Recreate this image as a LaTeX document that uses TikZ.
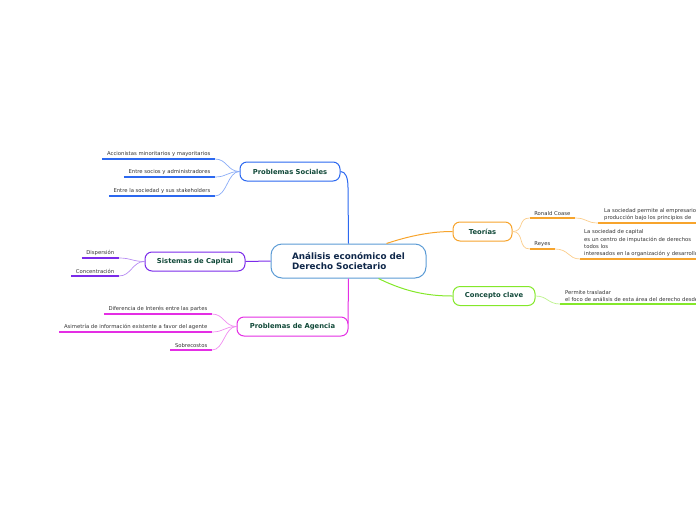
\documentclass[tikz,border=0pt]{standalone}
\usepackage{fontspec}
\setmainfont{DejaVu Sans}
\usepackage{tikz}
\usetikzlibrary{arrows.meta}
\usepackage{xcolor}
\definecolor{mainblue}{HTML}{5B9BD5}
\definecolor{maintext}{HTML}{10284A}
\definecolor{topictext}{HTML}{124A3A}
\definecolor{leaftext}{HTML}{333333}
\definecolor{socblue}{HTML}{2B68F0}
\definecolor{capviolet}{HTML}{7B2BEA}
\definecolor{agmagenta}{HTML}{E42EE4}
\definecolor{teorange}{HTML}{F7A42C}
\definecolor{conlime}{HTML}{84E82A}
\tikzset{
  topic/.style={draw=#1,rounded corners=7pt,line width=1pt,fill=white,text=topictext,font=\fontsize{6.8}{8}\selectfont\bfseries,minimum height=19pt,inner xsep=0pt},
  leaf/.style={text=leaftext,font=\fontsize{5.3}{7.3}\selectfont,inner xsep=4.5pt,inner ysep=2pt},
  note/.style={leaf,align=left,inner xsep=6pt},
  uline/.style={draw=#1,line width=1.6pt},
  twig/.style={draw=#1!55,line width=0.7pt},
}

\begin{document}
\begin{tikzpicture}[x=1pt,y=-1pt]
\useasboundingbox (0,0) rectangle (696,520);
\clip (0,0) rectangle (696,520);
% main topics
\node[topic=mainblue,minimum width=155pt,minimum height=34pt,rounded corners=11pt,align=left,font=\fontsize{8.8}{10.5}\selectfont\bfseries,text=maintext] (main) at (348.5,261) {Análisis económico del\\Derecho Societario};
\node[topic=socblue,minimum width=100pt] (ps) at (290,171.5) {Problemas Sociales};
\node[topic=capviolet,minimum width=100pt] (sc) at (195,261.5) {Sistemas de Capital};
\node[topic=agmagenta,minimum width=111pt] (pa) at (292.5,326.5) {Problemas de Agencia};
\node[topic=teorange,minimum width=59pt] (te) at (482.5,231.5) {Teorías};
\node[topic=conlime,minimum width=82pt] (cc) at (494,296) {Concepto clave};
\draw[socblue,line width=1pt] (main.north) -- ++(-0.5,-56) .. controls +(0,-10) and +(5,0) .. (ps.east);
\draw[capviolet,line width=1pt] (main.west) -- (sc.east);
\draw[agmagenta,line width=1pt] (main.south) -- ([xshift=-0.5pt,yshift=3pt]pa.east);
\draw[teorange,line width=1pt] ([xshift=38pt]main.north) .. controls +(30,-10) and +(-15,0) .. (te.west);
\draw[conlime,line width=1pt] ([xshift=30pt]main.south) .. controls +(30,15) and +(-20,0) .. (cc.west);
% left branches
\foreach \n/\y/\t in {s1/159/Accionistas minoritarios y mayoritarios,s2/177/Entre socios y administradores,s3/196/Entre la sociedad y sus stakeholders}{
  \node[leaf,anchor=south east] (\n) at (215,\y) {\t};
  \draw[uline=socblue] (\n.south west) -- (\n.south east);
  \draw[twig=socblue] (ps.west) .. controls +(-12,0) and +(12,0) .. (\n.south east);
}
\foreach \n/\y/\t in {d1/258/Dispersión,d2/276/Concentración}{
  \node[leaf,anchor=south east] (\n) at (119,\y) {\t};
  \draw[uline=capviolet] (\n.south west) -- (\n.south east);
  \draw[twig=capviolet] (sc.west) .. controls +(-12,0) and +(12,0) .. (\n.south east);
}
\foreach \n/\y/\t in {a1/314/Diferencia de Interés entre las partes,a2/332/Asimetría de información existente a favor del agente,a3/350/Sobrecostos}{
  \node[leaf,anchor=south east] (\n) at (212,\y) {\t};
  \draw[uline=agmagenta] (\n.south west) -- (\n.south east);
  \draw[twig=agmagenta] (pa.west) .. controls +(-12,0) and +(12,0) .. (\n.south east);
}
% right branches
\foreach \n/\x/\y/\t in {rc/575/218/Ronald Coase,ry/555/249/Reyes}{
  \node[leaf,anchor=south east] (\n) at (\x,\y) {\t};
  \draw[uline=teorange] (\n.south west) -- (\n.south east);
  \draw[twig=teorange] (te.east) .. controls +(12,0) and +(-12,0) .. (\n.south west);
}
\node[note,anchor=south west] (rct) at (598,223) {La sociedad permite al empresario\\producción bajo los principios de};
\draw[uline=teorange] (rct.south west) -- ++(120,0);
\draw[twig=teorange] (rc.south east) .. controls +(12,0) and +(-12,0) .. (rct.south west);
\node[note,anchor=south west,inner xsep=4pt] (ryt) at (580,259) {La sociedad de capital\\es un centro de imputación de derechos\\todos los\\interesados en la organización y desarrollo};
\draw[uline=teorange] (ryt.south west) -- ++(140,0);
\draw[twig=teorange] (ry.south east) .. controls +(14,0) and +(-12,0) .. (ryt.south west);
\node[note,anchor=south west,inner xsep=5pt] (cct) at (560,304) {Permite trasladar\\el foco de análisis de esta área del derecho desde};
\draw[uline=conlime] (cct.south west) -- ++(160,0);
\draw[twig=conlime] (cc.east) .. controls +(12,0) and +(-12,0) .. (cct.south west);
\end{tikzpicture}
\end{document}
